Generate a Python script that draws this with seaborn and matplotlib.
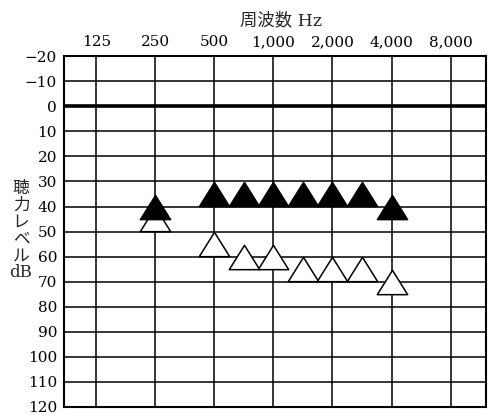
import matplotlib
matplotlib.use("Agg")
import matplotlib.pyplot as plt
from matplotlib.path import Path
import seaborn as sns
import pandas as pd

# audiogram values
freqs = [250, 500, 750, 1000, 1500, 2000, 3000, 4000]
level_filled = [40, 35, 35, 35, 35, 35, 35, 40]  # black triangles
level_open = [45, 55, 60, 60, 65, 65, 65, 70]    # white triangles

octaves = [125, 250, 500, 1000, 2000, 4000, 8000]
octave_labels = ['125', '250', '500', '1,000', '2,000', '4,000', '8,000']
db_ticks = list(range(-20, 121, 10))
db_labels = ['−20', '−10'] + [str(v) for v in db_ticks[2:]]

# audiogram form: octaves equally spaced, half-octave freqs drawn midway
pos = {125: 0, 250: 1, 500: 2, 750: 2.5, 1000: 3, 1500: 3.5,
       2000: 4, 3000: 4.5, 4000: 5, 8000: 6}

sns.set_style('white')
plt.rcParams['font.family'] = ['DejaVu Serif', 'Noto Sans CJK JP']

df = pd.DataFrame({'freq': freqs, 'filled': level_filled, 'open': level_open})
df['x'] = df['freq'].map(pos)

fig = plt.figure(figsize=(5, 4.19), dpi=100)
ax = fig.add_axes([0.128, 0.0294, 0.843, 0.836])

# closed triangle, a bit wider than tall
tri = Path([(0, 0.8), (-1, -0.8), (1, -0.8), (0, 0.8)], closed=True)

# grid first, markers drawn over it
for f in octaves:
    ax.axvline(pos[f], color='black', lw=1.1, zorder=1)
for v in db_ticks:
    ax.axhline(v, color='black', lw=2.6 if v == 0 else 1.1, zorder=1)

sns.scatterplot(data=df, x='x', y='open', marker=tri, s=480,
                color='white', edgecolor='black', linewidth=1.1, zorder=3, ax=ax)
sns.scatterplot(data=df, x='x', y='filled', marker=tri, s=480,
                color='black', edgecolor='black', linewidth=1.0, zorder=4, ax=ax)

ax.set_xlim(-0.547, 6.592)
ax.set_ylim(120, -20)
ax.set_xticks([pos[f] for f in octaves])
ax.set_xticklabels(octave_labels)
ax.set_yticks(db_ticks)
ax.set_yticklabels(db_labels)
ax.xaxis.tick_top()
ax.tick_params(axis='both', length=0, labelsize=11, colors='black')
ax.tick_params(axis='x', pad=5)
ax.tick_params(axis='y', pad=5)
ax.set_xlabel('')
ax.set_ylabel('')

for s in ax.spines.values():
    s.set_visible(True)
    s.set_color('black')
    s.set_linewidth(1.5)
    s.set_zorder(5)

fig.text(0.561, 0.95, '周波数 Hz', fontsize=12.5, ha='center', va='center')
fig.text(0.042, 0.45, '聴\n力\nレ\nベ\nル\ndB', fontsize=12, ha='center',
         va='center', linespacing=1.0)

fig.savefig('out.png', dpi=100, facecolor='white')
